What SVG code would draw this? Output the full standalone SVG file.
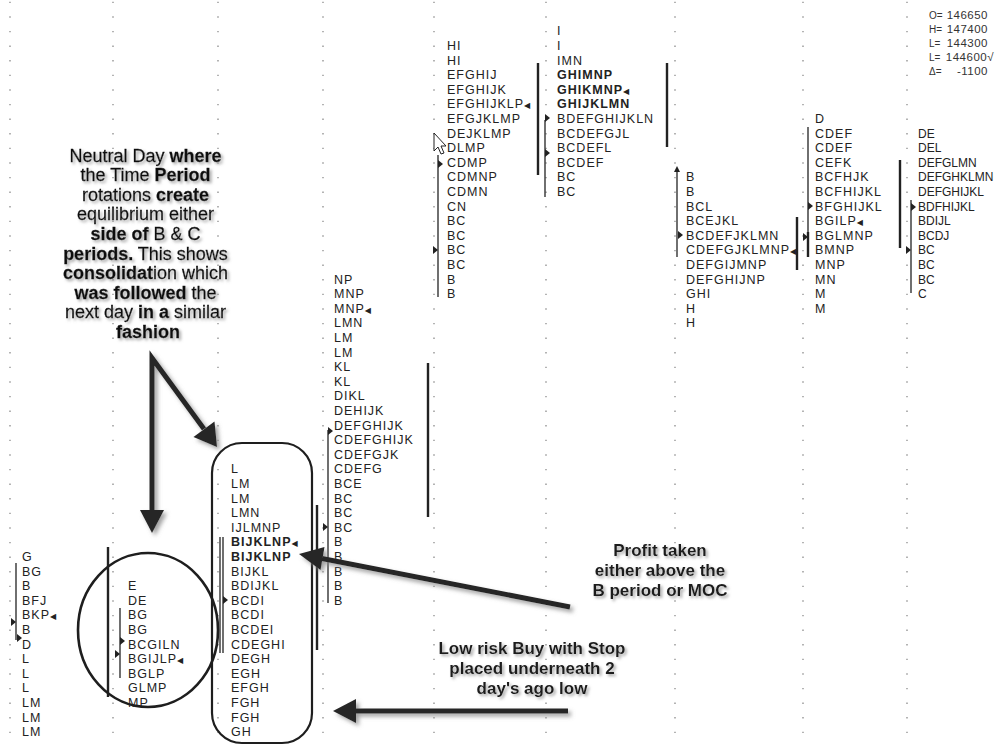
<svg xmlns="http://www.w3.org/2000/svg" width="995" height="746" viewBox="0 0 995 746">
<defs>
<filter id="sh" x="-10%" y="-10%" width="130%" height="130%"><feDropShadow dx="3" dy="3" stdDeviation="2" flood-color="#8a8a8a" flood-opacity="0.8"/></filter>
<filter id="tsh" x="-10%" y="-20%" width="130%" height="160%"><feDropShadow dx="2" dy="2" stdDeviation="1.6" flood-color="#9a9a9a" flood-opacity="0.9"/></filter>
<style>
.tp{font-family:"Liberation Sans",Arial,sans-serif;font-size:12.5px;letter-spacing:1px;fill:#222}
.mk{font-family:"DejaVu Sans",sans-serif;font-size:8px;letter-spacing:0}
.ann{font-family:"Liberation Sans",Arial,sans-serif;font-size:18px;fill:#111;stroke:#111;stroke-width:0.3;text-anchor:middle;filter:url(#tsh)}
.ann2{font-family:"Liberation Sans",Arial,sans-serif;font-size:17px;font-weight:bold;fill:#1a1a1a;text-anchor:middle;filter:url(#tsh)}
.b{font-weight:bold}
.grid{stroke:#8c8c8c;stroke-width:1.3;stroke-dasharray:1.4 13.2;fill:none}
.va{stroke:#333;stroke-width:1.4;fill:none}
.ib{stroke:#222;stroke-width:2.4;fill:none}
.tri{fill:#222}
.arr{stroke:#262626;stroke-width:5;fill:none;stroke-linejoin:miter}
.ah{fill:#262626}
.ohlc{font-family:"Liberation Sans",Arial,sans-serif;font-size:11.5px;fill:#333;letter-spacing:0.5px}
.ol{font-family:"Liberation Sans",Arial,sans-serif;font-size:10px;fill:#333}
</style>
</defs>
<rect width="995" height="746" fill="#ffffff"/>

<g id="grid">
<line class="grid" x1="10" y1="1.7" x2="10" y2="746"/>
<line class="grid" x1="113" y1="1.7" x2="113" y2="746"/>
<line class="grid" x1="218" y1="1.7" x2="218" y2="746"/>
<line class="grid" x1="323" y1="1.7" x2="323" y2="746"/>
<line class="grid" x1="434" y1="1.7" x2="434" y2="746"/>
<line class="grid" x1="546" y1="1.7" x2="546" y2="746"/>
<line class="grid" x1="675" y1="1.7" x2="675" y2="746"/>
<line class="grid" x1="803" y1="1.7" x2="803" y2="746"/>
<line class="grid" x1="907" y1="1.7" x2="907" y2="746"/>
</g>

<g id="ohlc">
<text class="ol" x="929" y="19">O=</text><text class="ohlc" x="988" y="19" text-anchor="end">146650</text>
<text class="ol" x="929" y="33">H=</text><text class="ohlc" x="988" y="33" text-anchor="end">147400</text>
<text class="ol" x="929" y="47">L=</text><text class="ohlc" x="988" y="47" text-anchor="end">144300</text>
<text class="ol" x="929" y="61">L=</text><text class="ohlc" x="994" y="61" text-anchor="end">144600√</text>
<text class="ol" x="929" y="75">Δ=</text><text class="ohlc" x="988" y="75" text-anchor="end">-1100</text>
</g>

<g id="day1">
<line class="va" x1="16" y1="563" x2="16" y2="640"/>
<line class="ib" x1="108" y1="547" x2="108" y2="697"/>
<polygon class="tri" points="11,618 16,622 11,626"/>
<polygon class="tri" points="17,634 22,638 17,642"/>
<text class="tp" y="561"><tspan x="22">G</tspan><tspan x="22" dy="14.6">BG</tspan><tspan x="22" dy="14.6">B</tspan><tspan x="22" dy="14.6">BFJ</tspan><tspan x="22" dy="14.6">BKP<tspan class="mk">◀</tspan></tspan><tspan x="22" dy="14.6">B</tspan><tspan x="22" dy="14.6">D</tspan><tspan x="22" dy="14.6">L</tspan><tspan x="22" dy="14.6">L</tspan><tspan x="22" dy="14.6">L</tspan><tspan x="22" dy="14.6">LM</tspan><tspan x="22" dy="14.6">LM</tspan><tspan x="22" dy="14.6">LM</tspan></text>
</g>

<g id="day2">
<line class="va" x1="120" y1="608" x2="120" y2="678"/>
<polygon class="tri" points="120,637 125,641 120,645"/>
<polygon class="tri" points="115,650 120,654 115,658"/>
<text class="tp" y="590.2"><tspan x="128">E</tspan><tspan x="128" dy="14.6">DE</tspan><tspan x="128" dy="14.6">BG</tspan><tspan x="128" dy="14.6">BG</tspan><tspan x="128" dy="14.6">BCGILN</tspan><tspan x="128" dy="14.6">BGIJLP<tspan class="mk">◀</tspan></tspan><tspan x="128" dy="14.6">BGLP</tspan><tspan x="128" dy="14.6">GLMP</tspan><tspan x="128" dy="14.6">MP</tspan></text>
</g>

<g id="day3">
<line class="va" x1="220" y1="537" x2="220" y2="653" stroke="#555"/>
<line class="va" x1="223" y1="537" x2="223" y2="653" stroke="#777"/>
<line class="ib" x1="317" y1="505" x2="317" y2="650"/>
<polygon class="tri" points="223,596 228,600 223,604"/>
<text class="tp" y="473.4"><tspan x="231">L</tspan><tspan x="231" dy="14.6">LM</tspan><tspan x="231" dy="14.6">LM</tspan><tspan x="231" dy="14.6">LMN</tspan><tspan x="231" dy="14.6">IJLMNP</tspan><tspan x="231" dy="14.6" class="b">BIJKLNP<tspan class="mk">◀</tspan></tspan><tspan x="231" dy="14.6" class="b">BIJKLNP</tspan><tspan x="231" dy="14.6">BIJKL</tspan><tspan x="231" dy="14.6">BDIJKL</tspan><tspan x="231" dy="14.6">BCDI</tspan><tspan x="231" dy="14.6">BCDI</tspan><tspan x="231" dy="14.6">BCDEI</tspan><tspan x="231" dy="14.6">CDEGHI</tspan><tspan x="231" dy="14.6">DEGH</tspan><tspan x="231" dy="14.6">EGH</tspan><tspan x="231" dy="14.6">EFGH</tspan><tspan x="231" dy="14.6">FGH</tspan><tspan x="231" dy="14.6">FGH</tspan><tspan x="231" dy="14.6">GH</tspan></text>
</g>

<g id="day4">
<line class="va" x1="328" y1="430" x2="328" y2="603"/>
<line class="ib" x1="428" y1="363" x2="428" y2="517"/>
<polygon class="tri" points="328,427 333,431 328,435"/>
<polygon class="tri" points="323,523 328,527 323,531"/>
<text class="tp" y="283.6"><tspan x="334">NP</tspan><tspan x="334" dy="14.6">MNP</tspan><tspan x="334" dy="14.6">MNP<tspan class="mk">◀</tspan></tspan><tspan x="334" dy="14.6">LMN</tspan><tspan x="334" dy="14.6">LM</tspan><tspan x="334" dy="14.6">LM</tspan><tspan x="334" dy="14.6">KL</tspan><tspan x="334" dy="14.6">KL</tspan><tspan x="334" dy="14.6">DIKL</tspan><tspan x="334" dy="14.6">DEHIJK</tspan><tspan x="334" dy="14.6">DEFGHIJK</tspan><tspan x="334" dy="14.6">CDEFGHIJK</tspan><tspan x="334" dy="14.6">CDEFGJK</tspan><tspan x="334" dy="14.6">CDEFG</tspan><tspan x="334" dy="14.6">BCE</tspan><tspan x="334" dy="14.6">BC</tspan><tspan x="334" dy="14.6">BC</tspan><tspan x="334" dy="14.6">BC</tspan><tspan x="334" dy="14.6">B</tspan><tspan x="334" dy="14.6">B</tspan><tspan x="334" dy="14.6">B</tspan><tspan x="334" dy="14.6">B</tspan><tspan x="334" dy="14.6">B</tspan></text>
</g>

<g id="day5">
<line class="va" x1="438" y1="155" x2="438" y2="297"/>
<line class="ib" x1="538" y1="63" x2="538" y2="175"/>
<polygon class="tri" points="438,160 443,164 438,168"/>
<polygon class="tri" points="433,246 438,250 433,254"/>
<text class="tp" y="50"><tspan x="447">HI</tspan><tspan x="447" dy="14.6">HI</tspan><tspan x="447" dy="14.6">EFGHIJ</tspan><tspan x="447" dy="14.6">EFGHIJK</tspan><tspan x="447" dy="14.6">EFGHIJKLP<tspan class="mk">◀</tspan></tspan><tspan x="447" dy="14.6">EFGJKLMP</tspan><tspan x="447" dy="14.6">DEJKLMP</tspan><tspan x="447" dy="14.6">DLMP</tspan><tspan x="447" dy="14.6">CDMP</tspan><tspan x="447" dy="14.6">CDMNP</tspan><tspan x="447" dy="14.6">CDMN</tspan><tspan x="447" dy="14.6">CN</tspan><tspan x="447" dy="14.6">BC</tspan><tspan x="447" dy="14.6">BC</tspan><tspan x="447" dy="14.6">BC</tspan><tspan x="447" dy="14.6">BC</tspan><tspan x="447" dy="14.6">B</tspan><tspan x="447" dy="14.6">B</tspan></text>
<polygon points="434,133 434,151 438,147 441,154 444,153 441,146 446,146" fill="#fff" stroke="#222" stroke-width="1"/>
</g>

<g id="day6">
<line class="va" x1="545" y1="120" x2="545" y2="197"/>
<line class="ib" x1="667" y1="63" x2="667" y2="147"/>
<polygon class="tri" points="545,114 550,118 545,122"/>
<polygon class="tri" points="545,149 550,153 545,157"/>
<text class="tp" y="35.4"><tspan x="557">I</tspan><tspan x="557" dy="14.6">I</tspan><tspan x="557" dy="14.6">IMN</tspan><tspan x="557" dy="14.6" class="b">GHIMNP</tspan><tspan x="557" dy="14.6" class="b">GHIKMNP<tspan class="mk">◀</tspan></tspan><tspan x="557" dy="14.6" class="b">GHIJKLMN</tspan><tspan x="557" dy="14.6">BDEFGHIJKLN</tspan><tspan x="557" dy="14.6">BCDEFGJL</tspan><tspan x="557" dy="14.6">BCDEFL</tspan><tspan x="557" dy="14.6">BCDEF</tspan><tspan x="557" dy="14.6">BC</tspan><tspan x="557" dy="14.6">BC</tspan></text>
</g>

<g id="day7">
<line class="va" x1="677" y1="168" x2="677" y2="257"/>
<line class="ib" x1="797" y1="217" x2="797" y2="270"/>
<polygon class="tri" points="674,172 677,166 680,172"/>
<polygon class="tri" points="678,231 683,235 678,239"/>
<text class="tp" y="181.4"><tspan x="686">B</tspan><tspan x="686" dy="14.6">B</tspan><tspan x="686" dy="14.6">BCL</tspan><tspan x="686" dy="14.6">BCEJKL</tspan><tspan x="686" dy="14.6">BCDEFJKLMN</tspan><tspan x="686" dy="14.6">CDEFGJKLMNP<tspan class="mk">◀</tspan></tspan><tspan x="686" dy="14.6">DEFGIJMNP</tspan><tspan x="686" dy="14.6">DEFGHIJNP</tspan><tspan x="686" dy="14.6">GHI</tspan><tspan x="686" dy="14.6">H</tspan><tspan x="686" dy="14.6">H</tspan></text>
</g>

<g id="day8">
<line class="va" x1="808" y1="127" x2="808" y2="257"/>
<line class="ib" x1="808" y1="232" x2="808" y2="257"/>
<line class="ib" x1="900" y1="160" x2="900" y2="248"/>
<polygon class="tri" points="808,202 813,206 808,210"/>
<polygon class="tri" points="803,233 808,237 803,241"/>
<text class="tp" y="123"><tspan x="815">D</tspan><tspan x="815" dy="14.6">CDEF</tspan><tspan x="815" dy="14.6">CDEF</tspan><tspan x="815" dy="14.6">CEFK</tspan><tspan x="815" dy="14.6">BCFHJK</tspan><tspan x="815" dy="14.6">BCFHIJKL</tspan><tspan x="815" dy="14.6">BFGHIJKL</tspan><tspan x="815" dy="14.6">BGILP<tspan class="mk">◀</tspan></tspan><tspan x="815" dy="14.6">BGLMNP</tspan><tspan x="815" dy="14.6">BMNP</tspan><tspan x="815" dy="14.6">MNP</tspan><tspan x="815" dy="14.6">MN</tspan><tspan x="815" dy="14.6">M</tspan><tspan x="815" dy="14.6">M</tspan></text>
</g>

<g id="day9">
<line class="va" x1="911" y1="200" x2="911" y2="293"/>
<polygon class="tri" points="911,203 916,207 911,211"/>
<polygon class="tri" points="906,246 911,250 906,254"/>
<text class="tp" y="137.6" style="letter-spacing:0;font-size:12px"><tspan x="918">DE</tspan><tspan x="918" dy="14.6">DEL</tspan><tspan x="918" dy="14.6">DEFGLMN</tspan><tspan x="918" dy="14.6">DEFGHKLMN</tspan><tspan x="918" dy="14.6">DEFGHIJKL</tspan><tspan x="918" dy="14.6">BDFHIJKL</tspan><tspan x="918" dy="14.6">BDIJL</tspan><tspan x="918" dy="14.6">BCDJ</tspan><tspan x="918" dy="14.6">BC</tspan><tspan x="918" dy="14.6">BC</tspan><tspan x="918" dy="14.6">BC</tspan><tspan x="918" dy="14.6">C</tspan></text>
</g>

<g id="highlight-circle">
<ellipse cx="148" cy="630" rx="70" ry="77" fill="none" stroke="#1e1e1e" stroke-width="2.6"/>
</g>
<g id="highlight-box">
<rect x="212" y="443" width="100" height="300" rx="30" ry="30" fill="none" stroke="#1e1e1e" stroke-width="2.2"/>
</g>

<g id="note-neutral">
<text class="ann" y="161.5">
<tspan x="148">Neutral Day <tspan class="b">where</tspan></tspan>
<tspan x="148" dy="19.6">the Time <tspan class="b">Period</tspan></tspan>
<tspan x="148" dy="19.6">rotations <tspan class="b">create</tspan></tspan>
<tspan x="148" dy="19.6">equilibrium either</tspan>
<tspan x="148" dy="19.6"><tspan class="b">side of</tspan> B &amp; C</tspan>
<tspan x="148" dy="19.6"><tspan class="b">periods.</tspan> This shows</tspan>
<tspan x="148" dy="19.6"><tspan class="b">consolidat</tspan>ion which</tspan>
<tspan x="148" dy="19.6"><tspan class="b">was followed</tspan> the</tspan>
<tspan x="148" dy="19.6">next day <tspan class="b">in a</tspan> similar</tspan>
<tspan x="148" dy="19.6" class="b">fashion</tspan>
</text>
</g>

<g id="note-profit">
<text class="ann2" y="556"><tspan x="660">Profit taken</tspan><tspan x="660" dy="20">either above the</tspan><tspan x="660" dy="20">B period or MOC</tspan></text>
</g>

<g id="note-buy">
<text class="ann2" y="654"><tspan x="532">Low risk Buy with Stop</tspan><tspan x="532" dy="20">placed underneath 2</tspan><tspan x="532" dy="20">day's ago low</tspan></text>
</g>

<g id="connectors" filter="url(#sh)">
<polyline class="arr" points="152,512 152,358 204,429"/>
<polygon class="ah" points="140,510 164,510 152,533"/>
<polygon class="ah" points="193.5,437 214.5,421.6 217,447"/>
<line class="arr" x1="570" y1="607" x2="322" y2="558.5"/>
<polygon class="ah" points="324.5,547 320.5,570 299,554"/>
<line class="arr" x1="568" y1="711" x2="354" y2="711"/>
<polygon class="ah" points="356,699 356,723 333,711"/>
</g>
</svg>
